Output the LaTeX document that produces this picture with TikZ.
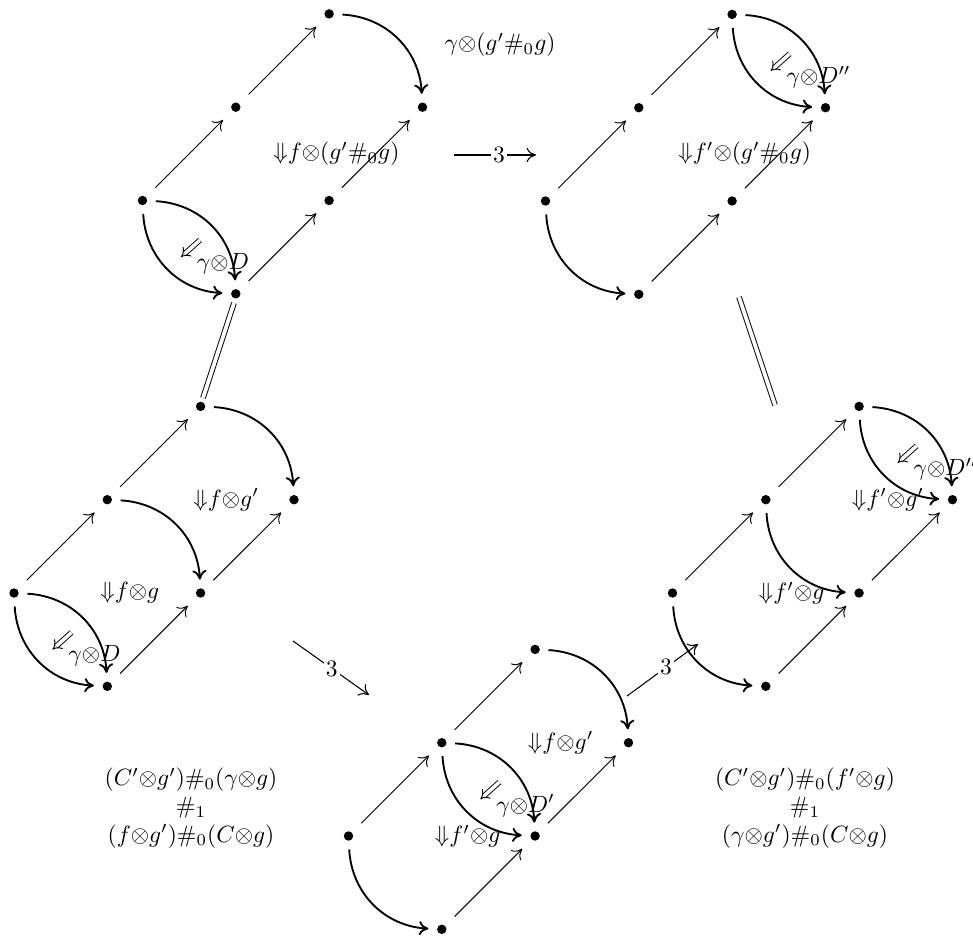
\documentclass[tikz,border=0pt]{standalone}
\usetikzlibrary{arrows.meta,calc}
\begin{document}
\begin{tikzpicture}[x=0.425pt,y=0.425pt,
  dot/.style={circle,fill,inner sep=0pt,minimum size=4pt,outer sep=3.7pt},
  >={Computer Modern Rightarrow[length=4pt,width=6pt]},
  arr/.style={->,line width=0.4pt,shorten <=2pt,shorten >=2pt},
  cv/.style={->,line width=0.8pt},
  dbl/.style={double,double distance=1.6pt,line width=0.4pt},
  modif/.style={double,double distance=1.5pt,line width=0.4pt,-{Implies}},
  three/.style={->,line width=0.45pt},
  lbl/.style={inner sep=0pt,anchor=west},
  num/.style={fill=white,inner sep=1pt}]
\useasboundingbox (0,0) rectangle (973,936);
% dots
\foreach \dg/\px/\py in {tl/142.5/735.5, tr/545.5/735, bl/14/343, bm/348.5/100, br/672.5/343}{
  \node[dot] (\dg A) at (\px,\py) {};
  \node[dot] (\dg B) at (\px+93.3,\py+93.3) {};
  \node[dot] (\dg C) at (\px+186.6,\py+186.6) {};
  \node[dot] (\dg D) at (\px+280,\py+93.3) {};
  \node[dot] (\dg E) at (\px+186.6,\py) {};
  \node[dot] (\dg F) at (\px+93.3,\py-93.3) {};
}
% straight arrows
\foreach \dg in {tl,tr,bl,bm,br}{
  \draw[arr] (\dg A) -- (\dg B);
  \draw[arr] (\dg B) -- (\dg C);
  \draw[arr] (\dg F) -- (\dg E);
  \draw[arr] (\dg E) -- (\dg D);
}
% curved arrows
\draw[cv] (tlC) to[bend left=42] (tlD);
\draw[cv] (tlA) to[bend left=42] (tlF);
\draw[cv] (tlA) to[bend right=42] (tlF);

\draw[cv] (trC) to[bend left=42] (trD);
\draw[cv] (trC) to[bend right=42] (trD);
\draw[cv] (trA) to[bend right=42] (trF);

\draw[cv] (blC) to[bend left=42] (blD);
\draw[cv] (blB) to[bend left=42] (blE);
\draw[cv] (blA) to[bend left=42] (blF);
\draw[cv] (blA) to[bend right=42] (blF);

\draw[cv] (bmC) to[bend left=42] (bmD);
\draw[cv] (bmB) to[bend left=42] (bmE);
\draw[cv] (bmB) to[bend right=42] (bmE);
\draw[cv] (bmA) to[bend right=42] (bmF);

\draw[cv] (brC) to[bend left=42] (brD);
\draw[cv] (brC) to[bend right=42] (brD);
\draw[cv] (brB) to[bend right=42] (brE);
\draw[cv] (brA) to[bend right=42] (brF);

% 2-cell labels
\node[lbl] (ltl) at (273,782) {${\Downarrow}f{\otimes}(g'\#_0g)$};
\node[lbl] (ltr) at (678,782) {${\Downarrow}f'{\otimes}(g'\#_0g)$};
\node[lbl] (lbl1) at ($(blA)+(86,0)$) {${\Downarrow}f{\otimes}g$};
\node[lbl] (lbl2) at ($(blA)+(179,93.3)$) {${\Downarrow}f{\otimes}g'$};
\node[lbl] (lbm1) at ($(bmA)+(86,0)$) {${\Downarrow}f'{\otimes}g$};
\node[lbl] (lbm2) at ($(bmA)+(179,93.3)$) {${\Downarrow}f{\otimes}g'$};
\node[lbl] (lbr1) at ($(brA)+(86,0)$) {${\Downarrow}f'{\otimes}g$};
\node[lbl] (lbr2) at ($(brA)+(179,93.3)$) {${\Downarrow}f'{\otimes}g'$};

% modifications
\foreach \mm/\src in {mtl/tlA, mbl/blA, mtr/trC, mbm/bmB, mbr/brC}{
  \coordinate (\mm s) at ($(\src)+(57.5,-39.5)$);
  \coordinate (\mm e) at ($(\src)+(38.5,-56.5)$);
  \draw[modif] (\mm s) -- (\mm e);
}
\node[lbl] (gtl) at ($(tlA)+(54,-63)$) {$\gamma{\otimes}D$};
\node[lbl] (gbl) at ($(blA)+(54,-63)$) {$\gamma{\otimes}D$};
\node[lbl] (gtr) at ($(trC)+(54,-63)$) {$\gamma{\otimes}D''$};
\node[lbl] (gbm) at ($(bmB)+(54,-63)$) {$\gamma{\otimes}D'$};
\node[lbl] (gbr) at ($(brC)+(54,-63)$) {$\gamma{\otimes}D''$};

% free labels
\node (top) at (500,891) {$\gamma{\otimes}(g'\#_0g)$};
\node[align=center] (sumL) at (191,128) {$(C'{\otimes}g')\#_0(\gamma{\otimes}g)$\\$\#_1$\\$(f{\otimes}g')\#_0(C{\otimes}g)$};
\node[align=center] (sumR) at (805,128) {$(C'{\otimes}g')\#_0(f'{\otimes}g)$\\$\#_1$\\$(\gamma{\otimes}g')\#_0(C{\otimes}g)$};

% connectors between diagrams
\coordinate (p1) at (454,781);
\coordinate (p2) at (536,781);
\draw[three] (p1) -- node[num,pos=0.55] (n1) {$3$} (p2);
\coordinate (q1) at (234,633);
\coordinate (q2) at (203,538);
\draw[dbl] (q1) -- (q2);
\coordinate (r1) at (739,639);
\coordinate (r2) at (775,531);
\draw[dbl] (r1) -- (r2);
\coordinate (s1) at (293,295);
\coordinate (s2) at (369,241);
\draw[three] (s1) -- node[num,pos=0.51] (n2) {$3$} (s2);
\coordinate (t1) at (627,240);
\coordinate (t2) at (698,292);
\draw[three] (t1) -- node[num,pos=0.55] (n3) {$3$} (t2);
\end{tikzpicture}
\end{document}
